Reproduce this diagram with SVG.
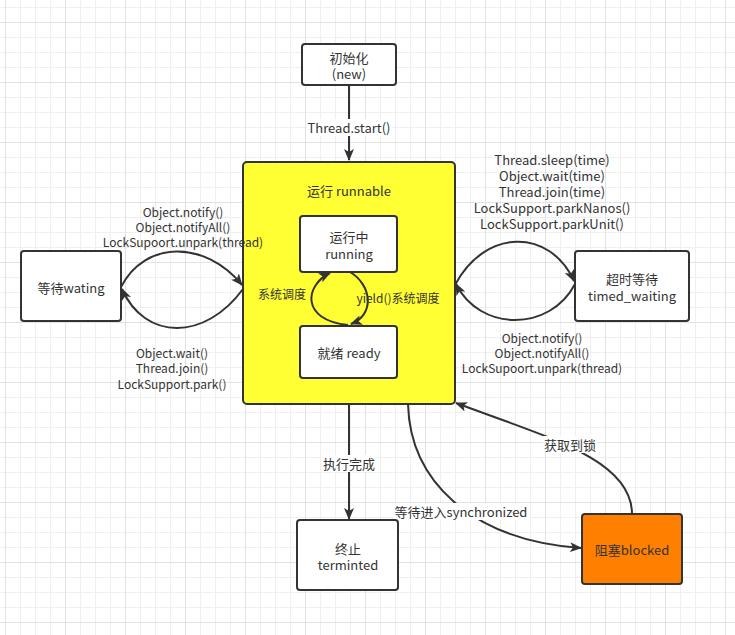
<svg xmlns="http://www.w3.org/2000/svg" width="735" height="635" viewBox="0 0 735 635">
<defs>
<pattern id="minor" x="5" y="7" width="15" height="15" patternUnits="userSpaceOnUse">
<path d="M0.5,0 V15 M0,0.5 H15" fill="none" stroke="#efefef" stroke-width="1"/>
</pattern>
<pattern id="major" x="5" y="22" width="60" height="60" patternUnits="userSpaceOnUse">
<path d="M0.5,0 V60 M0,0.5 H60" fill="none" stroke="#e2e2e2" stroke-width="1"/>
</pattern>
<marker id="arr" viewBox="0 0 12 10" refX="11" refY="5" markerWidth="12" markerHeight="10" markerUnits="userSpaceOnUse" orient="auto">
<path d="M0,0 L12,5 L0,10 L3,5 z" fill="#333333"/>
</marker>
<style>
.node{stroke:#333333;stroke-width:2}
.t{font-family:"Noto Sans CJK SC","Microsoft YaHei","Noto Sans",sans-serif;font-size:13px;fill:#333333;text-anchor:middle;dominant-baseline:central}
.s{font-size:12px}
.e{fill:none;stroke:#333333;stroke-width:2;marker-end:url(#arr)}
.bg{fill:#ffffff}
</style>
</defs>
<rect width="735" height="635" fill="#ffffff"/>
<rect width="735" height="635" fill="url(#minor)"/>
<rect width="735" height="635" fill="url(#major)"/>

<g id="runnable">
<rect class="node" x="243" y="162" width="212" height="242" rx="4" fill="#ffff33"/>
<text class="t" x="349" y="190">运行 runnable</text>
</g>

<g id="connectors">
<path class="e" d="M349,86 L349,160"/>
<path class="e" d="M121,287 C145,240 205,240 242,285"/>
<path class="e" d="M243,289 C205,341 145,341 122,289"/>
<path class="e" d="M455,285 C485,228 550,228 574,281"/>
<path class="e" d="M575,284 C550,332 480,332 456,284"/>
<path class="e" d="M348,325 C300,320 305,285 330,273"/>
<path class="e" d="M350,272 C372,285 375,315 351,324"/>
<path class="e" d="M349,404 L349,519"/>
<path class="e" d="M408,404 C410,480 470,540 581,548"/>
<path class="e" d="M632,514 C632,460 550,438 456,403"/>
<rect class="bg" x="307" y="119" width="85" height="17"/>
<text class="t" x="349" y="127">Thread.start()</text>
<rect class="bg" x="322" y="455" width="54" height="17"/>
<text class="t" x="349" y="463">执行完成</text>
<rect class="bg" x="393" y="503" width="137" height="17"/>
<text class="t" x="461" y="511">等待进入synchronized</text>
<rect class="bg" x="543" y="436" width="54" height="17"/>
<text class="t" x="570" y="444">获取到锁</text>
<text class="t s" x="183" y="211"><tspan x="183" y="211">Object.notify()</tspan><tspan x="183" y="226">Object.notifyAll()</tspan><tspan x="183" y="241">LockSupoort.unpark(thread)</tspan></text>
<text class="t s" x="172" y="352"><tspan x="172" y="352">Object.wait()</tspan><tspan x="172" y="367">Thread.join()</tspan><tspan x="172" y="383">LockSupport.park()</tspan></text>
<text class="t" x="552" y="159"><tspan x="552" y="159">Thread.sleep(time)</tspan><tspan x="552" y="175">Object.wait(time)</tspan><tspan x="552" y="191">Thread.join(time)</tspan><tspan x="552" y="207">LockSupport.parkNanos()</tspan><tspan x="552" y="223">LockSupport.parkUnit()</tspan></text>
<text class="t s" x="542" y="337"><tspan x="542" y="337">Object.notify()</tspan><tspan x="542" y="352">Object.notifyAll()</tspan><tspan x="542" y="367">LockSupoort.unpark(thread)</tspan></text>
<text class="t s" x="282" y="293">系统调度</text>
<text class="t s" x="398" y="297">yield()系统调度</text>
</g>

<g id="new">
<rect class="node" x="302" y="44" width="94" height="41" rx="3" fill="#ffffff"/>
<text class="t" x="349" y="57"><tspan x="349" y="57">初始化</tspan><tspan x="349" y="73">(new)</tspan></text>
</g>
<g id="running">
<rect class="node" x="300" y="216" width="97" height="56" rx="3" fill="#ffffff"/>
<text class="t" x="349" y="236"><tspan x="349" y="236">运行中</tspan><tspan x="349" y="253">running</tspan></text>
</g>
<g id="ready">
<rect class="node" x="300" y="326" width="97" height="52" rx="3" fill="#ffffff"/>
<text class="t" x="349" y="352">就绪 ready</text>
</g>
<g id="waiting">
<rect class="node" x="21" y="251" width="100" height="70" rx="3" fill="#ffffff"/>
<text class="t" x="71" y="287">等待wating</text>
</g>
<g id="timed_waiting">
<rect class="node" x="575" y="251" width="114" height="70" rx="3" fill="#ffffff"/>
<text class="t" x="632" y="278"><tspan x="632" y="278">超时等待</tspan><tspan x="632" y="295">timed_waiting</tspan></text>
</g>
<g id="terminated">
<rect class="node" x="297" y="520" width="101" height="70" rx="3" fill="#ffffff"/>
<text class="t" x="348" y="548"><tspan x="348" y="548">终止</tspan><tspan x="348" y="564">terminted</tspan></text>
</g>
<g id="blocked">
<rect class="node" x="582" y="514" width="100" height="70" rx="3" fill="#ff8000"/>
<text class="t" x="632" y="549">阻塞blocked</text>
</g>
</svg>
